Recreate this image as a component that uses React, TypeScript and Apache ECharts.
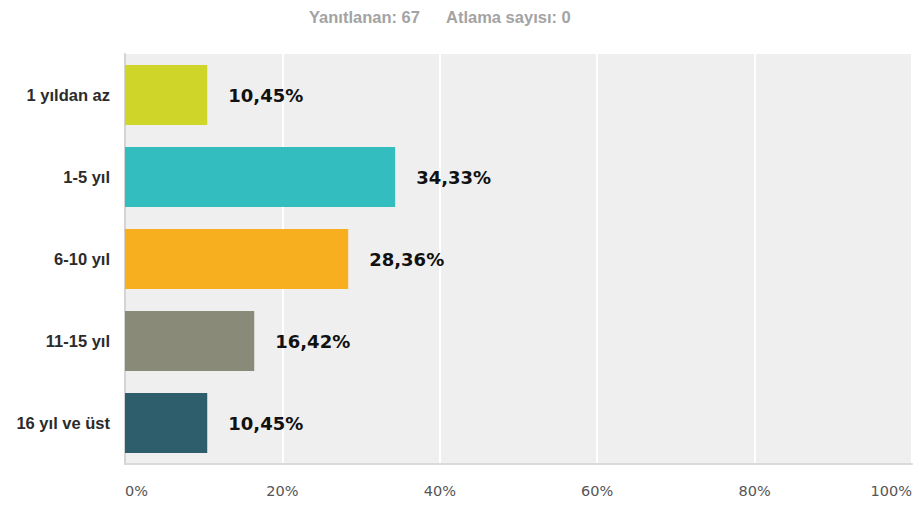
import React, { useEffect, useRef } from "react";
import * as echarts from "echarts";

const categories = ["1 yıldan az", "1-5 yıl", "6-10 yıl", "11-15 yıl", "16 yıl ve üst"];
const values = [10.45, 34.33, 28.36, 16.42, 10.45];
const barColors = ["#d0d52a", "#33bdbf", "#f7ae1f", "#898a78", "#2e5e6b"];
const answeredText = "Yanıtlanan: 67";
const skippedText = "Atlama sayısı: 0";

export default function App() {
  const ref = useRef<HTMLDivElement>(null);
  useEffect(() => {
    if (!ref.current) return;
    const chart = echarts.init(ref.current, null, { renderer: "svg" });
    const titleStyle = {
      fontFamily: "Liberation Sans, Arial, sans-serif",
      fontWeight: "bold",
      fontSize: 16.5,
      fill: "#a3a3a3",
      verticalAlign: "middle",
      align: "left",
    };
    chart.setOption({
      animation: false,
      backgroundColor: "#ffffff",
      graphic: [
        { type: "text", x: 309, y: 17, style: { ...titleStyle, text: answeredText } },
        { type: "text", x: 446, y: 17, style: { ...titleStyle, text: skippedText } },
      ],
      grid: {
        left: 125,
        top: 54,
        right: 3,
        bottom: 41,
        show: true,
        backgroundColor: "#efefef",
        borderWidth: 0,
      },
      xAxis: {
        type: "value",
        min: 0,
        max: 100,
        interval: 20,
        axisLine: { show: true, lineStyle: { color: "#dadada", width: 2 } },
        axisTick: { show: false },
        splitLine: { show: true, lineStyle: { color: "#ffffff", width: 2 } },
        axisLabel: {
          formatter: "{value}%",
          margin: 19,
          fontFamily: "DejaVu Sans, Verdana, sans-serif",
          fontSize: 14.5,
          color: "#555555",
          alignMinLabel: "left",
          alignMaxLabel: "right",
        },
      },
      yAxis: {
        type: "category",
        data: categories,
        inverse: true,
        axisLine: { show: true, lineStyle: { color: "#d4d4d4", width: 2 } },
        axisTick: { show: false },
        axisLabel: {
          margin: 15,
          fontFamily: "Liberation Sans, Arial, sans-serif",
          fontWeight: "bold",
          fontSize: 16.5,
          color: "#2b2b2b",
        },
      },
      series: [
        {
          type: "bar",
          barWidth: 60,
          data: values.map((v, i) => ({
            value: v,
            itemStyle: { color: barColors[i] },
          })),
          label: {
            show: true,
            position: "right",
            distance: 21,
            formatter: (p: any) => p.value.toFixed(2).replace(".", ",") + "%",
            fontFamily: "DejaVu Sans, Verdana, sans-serif",
            fontWeight: "bold",
            fontSize: 18,
            color: "#111111",
          },
        },
      ],
    });
    return () => chart.dispose();
  }, []);
  return (
    <div
      ref={ref}
      style={{ position: "fixed", left: 0, top: 0, width: 915, height: 505 }}
    />
  );
}
